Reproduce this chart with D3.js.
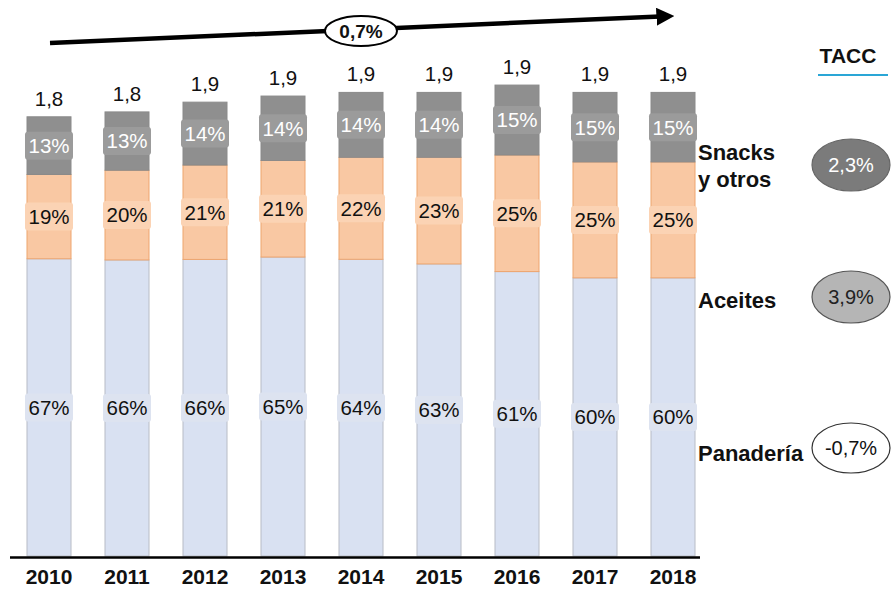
<!DOCTYPE html>
<html>
<head>
<meta charset="utf-8">
<script src="https://cdn.jsdelivr.net/npm/d3@7"></script>
<style>
  html, body { margin: 0; padding: 0; background: #fff; }
  svg { display: block; font-family: "Liberation Sans", Arial, Helvetica, sans-serif; }
</style>
</head>
<body>
<svg id="chart" width="891" height="590"></svg>
<script>
// ---- data ----
const years = ["2010","2011","2012","2013","2014","2015","2016","2017","2018"];
const totals = [1.80, 1.82, 1.86, 1.885, 1.90, 1.90, 1.93, 1.90, 1.90];
const totalLabels = ["1,8","1,8","1,9","1,9","1,9","1,9","1,9","1,9","1,9"];
const panaderia = [67, 66, 66, 65, 64, 63, 61, 60, 60];
const aceites   = [19, 20, 21, 21, 22, 23, 25, 25, 25];
const snacks    = [13, 13, 14, 14, 14, 14, 15, 15, 15];
const seriesNames = ["Panadería", "Aceites", "Snacks\ny otros"];
const taccLabels = ["-0,7%", "3,9%", "2,3%"];
const overallTacc = "0,7%";

// ---- layout ----
const svg = d3.select("#chart");
const x = d3.scaleBand().domain(years).range([10, 712])
  .paddingInner(34 / 78).paddingOuter(17 / 78);
const y = d3.scaleLinear().domain([0, 2]).range([556, 68]);

const colors = {
  pan:  {fill: "#d9e1f2", stroke: "#b8bcc6", box: "#dde3f0", text: "#111"},
  ace:  {fill: "#f9c8a3", stroke: "#eea56f", box: "#fbd3b4", text: "#111"},
  sna:  {fill: "#8f8f8f", stroke: "#8a8a8a", box: "#9b9b9b", text: "#fff"}
};

const rows = years.map((yr, i) => {
  const sum = panaderia[i] + aceites[i] + snacks[i];
  const t = totals[i];
  const p = t * panaderia[i] / sum, a = t * aceites[i] / sum;
  return {
    yr, i,
    segs: [
      {key: "pan", y0: 0, y1: p, label: panaderia[i] + "%"},
      {key: "ace", y0: p, y1: p + a, label: aceites[i] + "%"},
      {key: "sna", y0: p + a, y1: t, label: snacks[i] + "%"}
    ]
  };
});

const bw = x.bandwidth();
const gBars = svg.append("g");
rows.forEach(r => {
  const g = gBars.append("g");
  g.selectAll("rect.seg").data(r.segs).join("rect")
    .attr("class", "seg")
    .attr("x", x(r.yr)).attr("width", bw)
    .attr("y", d => y(d.y1)).attr("height", d => y(d.y0) - y(d.y1))
    .attr("fill", d => colors[d.key].fill)
    .attr("stroke", d => colors[d.key].stroke)
    .attr("stroke-width", 1);
  r.segs.forEach(d => {
    const cy = (y(d.y0) + y(d.y1)) / 2;
    const cx = x(r.yr) + bw / 2;
    g.append("rect")
      .attr("x", cx - 24).attr("y", cy - 14).attr("width", 48).attr("height", 28)
      .attr("rx", 3)
      .attr("fill", colors[d.key].box);
    g.append("text")
      .attr("x", cx).attr("y", cy).attr("dy", "0.36em")
      .attr("text-anchor", "middle")
      .attr("font-size", 20.5)
      .attr("fill", colors[d.key].text)
      .text(d.label);
  });
  g.append("text")
    .attr("x", x(r.yr) + bw / 2).attr("y", y(totals[r.i]) - 11)
    .attr("text-anchor", "middle")
    .attr("font-size", 20.5).attr("fill", "#111")
    .text(totalLabels[r.i]);
});

// x axis
const xAxis = d3.axisBottom(x).tickSize(0).tickPadding(12);
const ax = svg.append("g").attr("transform", "translate(0,557)").call(xAxis);
ax.select(".domain").attr("d", "M10,0.5H700").attr("stroke", "#000").attr("stroke-width", 2.5);
ax.selectAll("text").attr("font-size", 21).attr("font-weight", "bold").attr("fill", "#111")
  .attr("font-family", "Liberation Sans, Arial, sans-serif");

// top arrow
const defs = svg.append("defs");
defs.append("marker").attr("id", "arrow").attr("viewBox", "0 0 10 10")
  .attr("refX", 2).attr("refY", 5).attr("markerWidth", 4).attr("markerHeight", 4)
  .attr("orient", "auto")
  .append("path").attr("d", "M0,0L10,5L0,10z").attr("fill", "#000");
svg.append("line")
  .attr("x1", 50).attr("y1", 43).attr("x2", 660).attr("y2", 16.5)
  .attr("stroke", "#000").attr("stroke-width", 4.5)
  .attr("marker-end", "url(#arrow)");
svg.append("ellipse").attr("cx", 361).attr("cy", 31).attr("rx", 36).attr("ry", 15)
  .attr("fill", "#fff").attr("stroke", "#000").attr("stroke-width", 2);
svg.append("text").attr("x", 361).attr("y", 31).attr("dy", "0.36em")
  .attr("text-anchor", "middle").attr("font-size", 19).attr("font-weight", "bold")
  .attr("fill", "#111").text(overallTacc);

// TACC header
svg.append("text").attr("x", 848).attr("y", 55).attr("dy", "0.36em")
  .attr("text-anchor", "middle").attr("font-size", 21).attr("font-weight", "bold")
  .attr("fill", "#111").text("TACC");
svg.append("line").attr("x1", 818).attr("x2", 888).attr("y1", 75).attr("y2", 75)
  .attr("stroke", "#2aa6d6").attr("stroke-width", 2);

// series labels and TACC ovals
const legendY = [453, 300, 166];
const ovalY = [448, 297, 165];
const ovalStyle = [
  {fill: "#ffffff", stroke: "#333", text: "#111"},
  {fill: "#b5b5b5", stroke: "#555", text: "#222"},
  {fill: "#7b7b7b", stroke: "#666", text: "#fff"}
];
seriesNames.forEach((name, k) => {
  const lines = name.split("\n");
  const t = svg.append("text").attr("x", 698).attr("font-size", 22).attr("font-weight", "bold").attr("fill", "#111");
  lines.forEach((ln, j) => {
    t.append("tspan").attr("x", 698)
      .attr("y", legendY[k] + (j - (lines.length - 1) / 2) * 27)
      .attr("dy", "0.36em").text(ln);
  });
  svg.append("ellipse").attr("cx", 851).attr("cy", ovalY[k]).attr("rx", 39).attr("ry", k === 0 ? 25 : 26)
    .attr("fill", ovalStyle[k].fill).attr("stroke", ovalStyle[k].stroke).attr("stroke-width", 1.2);
  svg.append("text").attr("x", 851).attr("y", ovalY[k]).attr("dy", "0.36em")
    .attr("text-anchor", "middle").attr("font-size", 20).attr("fill", ovalStyle[k].text)
    .text(taccLabels[k]);
});
</script>
</body>
</html>
